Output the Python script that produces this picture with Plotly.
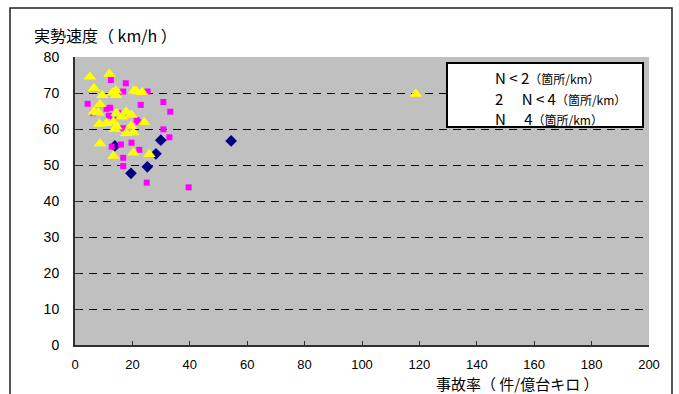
import plotly.graph_objects as go

# Data
# Series 1: navy diamonds
s1_x = [29.9, 13.9, 28.2, 25.2, 19.5, 54.4]
s1_y = [56.9, 55.3, 53.1, 49.5, 47.7, 56.7]

# Series 2: magenta squares
s2_x = [12.5, 17.7, 16.8, 25.3, 30.8, 22.9, 4.4, 33.2, 12.2, 11.0, 11.8, 6.4, 15.1,
        21.5, 22.1, 13.4, 16.8, 30.8, 32.9, 16.0, 19.7, 12.8, 22.4, 16.8, 16.8, 25.0, 39.6]
s2_y = [73.6, 72.7, 70.4, 70.4, 67.5, 66.7, 67.0, 64.8, 65.9, 65.6, 63.7, 64.4, 64.4,
        62.5, 61.9, 62.5, 60.2, 59.9, 57.7, 55.7, 56.2, 55.1, 54.2, 52.0, 49.7, 45.1, 43.8]

# Series 3: yellow triangles
s3_x = [5.2, 12.0, 6.6, 9.5, 13.1, 14.3, 14.3, 20.6, 21.5, 23.4, 8.7, 6.6, 8.1, 14.5,
        17.8, 19.7, 16.3, 8.5, 11.0, 13.4, 14.5, 19.5, 24.1, 13.9, 17.8, 20.3, 8.7,
        13.4, 20.3, 25.9, 118.8]
s3_y = [74.5, 75.3, 71.3, 69.4, 70.1, 70.6, 69.4, 70.6, 70.4, 70.2, 66.9, 64.8, 64.5, 64.4,
        64.8, 63.9, 63.4, 61.4, 61.6, 62.0, 60.6, 60.8, 61.9, 60.0, 58.8, 59.0, 56.0,
        52.5, 53.4, 53.0, 69.7]

series_names = ["N < 2", "2 ≤ N < 4", "N ≥ 4"]
legend_lines = ["N < 2", "2　 N < 4", "N　 4"]
legend_unit = "（箇所/km）"

x_ticks = [0, 20, 40, 60, 80, 100, 120, 140, 160, 180, 200]
y_ticks = [0, 10, 20, 30, 40, 50, 60, 70, 80]

y_title = "実勢速度（ km/h ）"
x_title = "事故率（ 件/億台キロ ）"

FONT = "Liberation Sans, Arial, sans-serif"
JFONT = "Noto Sans CJK JP, sans-serif"

fig = go.Figure()
fig.add_trace(go.Scatter(x=s1_x, y=s1_y, mode="markers", name=series_names[0],
                         marker=dict(symbol="diamond", size=9, color="#000080", line=dict(width=0))))
fig.add_trace(go.Scatter(x=s2_x, y=s2_y, mode="markers", name=series_names[1],
                         marker=dict(symbol="square", size=6, color="#FF00FF", line=dict(width=0))))
fig.add_trace(go.Scatter(x=s3_x, y=s3_y, mode="markers", name=series_names[2],
                         marker=dict(symbol="triangle-up", size=11, color="#FFFF00", line=dict(width=0))))

fig.update_layout(
    width=679, height=394,
    margin=dict(l=75, r=30, t=57, b=49),
    paper_bgcolor="white",
    plot_bgcolor="#C0C0C0",
    showlegend=False,
    font=dict(family=FONT, size=12, color="black"),
)

fig.update_xaxes(
    range=[0, 200], tickvals=x_ticks, ticktext=[str(v) for v in x_ticks],
    showgrid=False, zeroline=False,
    showline=True, linecolor="#303030", linewidth=2,
    ticks="inside", ticklen=4, tickwidth=1, tickcolor="#303030",
    ticklabelstandoff=6,
    tickfont=dict(family=FONT, size=13, color="black"),
)
fig.update_yaxes(
    range=[0, 80], tickvals=y_ticks, ticktext=[str(v) for v in y_ticks],
    showgrid=True, gridcolor="black", gridwidth=1, griddash="8px,6px",
    zeroline=False,
    showline=True, linecolor="#303030", linewidth=2,
    ticks="inside", ticklen=5, tickwidth=1, tickcolor="#303030",
    ticklabelstandoff=11,
    tickfont=dict(family=FONT, size=14, color="black"),
)

# Outer chart frame
fig.add_shape(type="rect", xref="paper", yref="paper",
              x0=(10 - 75) / 574, x1=(672 - 75) / 574,
              y0=-0.3, y1=(345 - 8) / 288,
              line=dict(color="#202020", width=1.5), fillcolor="rgba(0,0,0,0)", layer="below")

# Legend box
fig.add_shape(type="rect", xref="paper", yref="paper",
              x0=(447 - 75) / 574, x1=(643 - 75) / 574,
              y0=(345 - 127) / 288, y1=(345 - 63) / 288,
              line=dict(color="black", width=2), fillcolor="white", layer="above")

legend_y = [77, 98, 118]
for txt, py in zip(legend_lines, legend_y):
    fig.add_annotation(xref="paper", yref="paper",
                       x=(493 - 75) / 574, y=(345 - py) / 288,
                       xanchor="left", yanchor="middle", showarrow=False,
                       text=f"<span style='font-size:15px'>{txt}</span>"
                            f"<span style='font-size:12px'>{legend_unit}</span>",
                       font=dict(family=JFONT, size=15, color="black"))

# Axis titles
fig.add_annotation(xref="paper", yref="paper",
                   x=(32 - 75) / 574, y=(345 - 35) / 288,
                   xanchor="left", yanchor="middle", showarrow=False,
                   text=y_title, font=dict(family=JFONT, size=16, color="black"))
fig.add_annotation(xref="paper", yref="paper",
                   x=(517 - 75) / 574, y=(345 - 383) / 288,
                   xanchor="center", yanchor="middle", showarrow=False, borderpad=0,
                   text=x_title, font=dict(family=JFONT, size=15, color="black"))

fig.write_html("out.html")
